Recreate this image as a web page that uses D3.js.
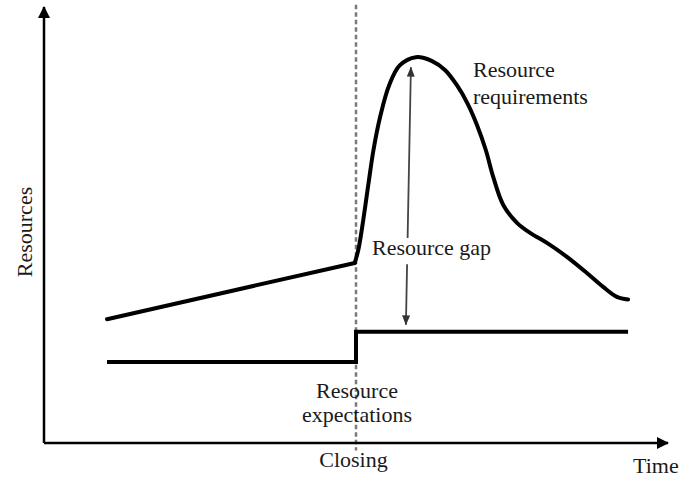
<!DOCTYPE html>
<html>
<head>
<meta charset="utf-8">
<script src="https://cdn.jsdelivr.net/npm/d3@7"></script>
<style>
html,body{margin:0;padding:0;background:#fff;}
svg{display:block;}
text{font-family:"Liberation Serif","Times New Roman",serif;fill:#1a1a1a;}
</style>
</head>
<body>
<svg id="chart" width="681" height="477"></svg>
<script>
// ---- data (time 0..100, resources 0..100, conceptual units) ----
const closingTime = 50;
// resource requirements: linear rise before closing
const reqBefore = [[10.1, 28.4], [49.8, 41.3]];
// resource requirements: hump after closing
const reqAfter = [
  [49.8, 41.3], [50.4, 44.5], [51.2, 51.5], [52.0, 59.5], [52.8, 67.2],
  [53.9, 75.0], [55.3, 82.0], [57.0, 86.6], [59.6, 88.5],
  [62.2, 87.6], [64.3, 85.5], [66.2, 82.0], [67.9, 77.8],
  [69.4, 72.9], [70.8, 67.2], [72.0, 61.0], [73.6, 54.6], [75.8, 50.5],
  [77.9, 48.2], [80.6, 45.9], [83.8, 42.7], [87.0, 39.0], [89.6, 35.8],
  [91.8, 33.5], [93.6, 32.9]
];
// resource expectations: step at closing
const expectations = [[10.1, 18.6], [50, 18.6], [50, 25.5], [93.6, 25.5]];
// resource gap arrow (bottom tip, top tip)
const gapArrow = [[58.0, 27.1], [58.8, 86.2]];
const gapLabelBreak = [47.0, 41.0]; // resources where the label interrupts the arrow
const labels = {
  yAxis: "Resources", xAxis: "Time", closing: "Closing",
  gap: "Resource gap", req: ["Resource", "requirements"], exp: ["Resource", "expectations"]
};

// ---- scales ----
const x = d3.scaleLinear().domain([0, 100]).range([44, 668]);
const y = d3.scaleLinear().domain([0, 100]).range([443, 7]);

const svg = d3.select("#chart");

// arrow markers
const defs = svg.append("defs");
defs.append("marker").attr("id", "axisArrow")
  .attr("viewBox", "0 0 12 12").attr("refX", 11).attr("refY", 6)
  .attr("markerWidth", 12).attr("markerHeight", 12).attr("markerUnits", "userSpaceOnUse")
  .attr("orient", "auto")
  .append("path").attr("d", "M0,0 L12,6 L0,12 Z").attr("fill", "#000");
defs.append("marker").attr("id", "gapArrow")
  .attr("viewBox", "0 0 10 8").attr("refX", 9.5).attr("refY", 4)
  .attr("markerWidth", 10).attr("markerHeight", 8).attr("markerUnits", "userSpaceOnUse")
  .attr("orient", "auto")
  .append("path").attr("d", "M0,0 L10,4 L0,8 Z").attr("fill", "#333");

// dashed closing line
svg.append("line")
  .attr("x1", x(closingTime)).attr("x2", x(closingTime))
  .attr("y1", y(100.5)).attr("y2", y(-1.7))
  .attr("stroke", "#7a7a7a").attr("stroke-width", 2.5)
  .attr("stroke-dasharray", "4.5,3");

// axes
svg.append("line")
  .attr("x1", x(0)).attr("y1", y(0)).attr("x2", x(0)).attr("y2", y(100))
  .attr("stroke", "#000").attr("stroke-width", 2.5).attr("marker-end", "url(#axisArrow)");
svg.append("line")
  .attr("x1", x(0)).attr("y1", y(0)).attr("x2", x(100)).attr("y2", y(0))
  .attr("stroke", "#000").attr("stroke-width", 2.5).attr("marker-end", "url(#axisArrow)");

// curves
const lin = d3.line().x(d => x(d[0])).y(d => y(d[1]));
const smooth = d3.line().x(d => x(d[0])).y(d => y(d[1])).curve(d3.curveCatmullRom.alpha(0.5));

svg.append("path").attr("d", lin(reqBefore))
  .attr("fill", "none").attr("stroke", "#000").attr("stroke-width", 4).attr("stroke-linecap", "round");
svg.append("path").attr("d", smooth(reqAfter))
  .attr("fill", "none").attr("stroke", "#000").attr("stroke-width", 4)
  .attr("stroke-linecap", "round").attr("stroke-linejoin", "round");
svg.append("path").attr("d", lin(expectations))
  .attr("fill", "none").attr("stroke", "#000").attr("stroke-width", 4).attr("stroke-linejoin", "miter");

// resource gap arrow (two parts around label)
const ax = r => {
  const [b, t] = gapArrow;
  return b[0] + (t[0] - b[0]) * (r - b[1]) / (t[1] - b[1]);
};
svg.append("line")
  .attr("x1", x(ax(gapLabelBreak[0]))).attr("y1", y(gapLabelBreak[0]))
  .attr("x2", x(gapArrow[1][0])).attr("y2", y(gapArrow[1][1]))
  .attr("stroke", "#444").attr("stroke-width", 1.8).attr("marker-end", "url(#gapArrow)");
svg.append("line")
  .attr("x1", x(ax(gapLabelBreak[1]))).attr("y1", y(gapLabelBreak[1]))
  .attr("x2", x(gapArrow[0][0])).attr("y2", y(gapArrow[0][1]))
  .attr("stroke", "#444").attr("stroke-width", 1.8).attr("marker-end", "url(#gapArrow)");

// labels
const fs = "22px";
svg.append("text").attr("transform", `translate(32,${y(50) + 7}) rotate(-90)`)
  .attr("text-anchor", "middle").style("font-size", fs).text(labels.yAxis);
svg.append("text").attr("x", 633).attr("y", 473).style("font-size", fs).text(labels.xAxis);
svg.append("text").attr("x", x(closingTime) - 2.5).attr("y", 467)
  .attr("text-anchor", "middle").style("font-size", fs).text(labels.closing);
svg.append("text").attr("x", 372).attr("y", 255).style("font-size", fs).text(labels.gap);
labels.req.forEach((t, i) => svg.append("text").attr("x", 473).attr("y", 77 + i * 27)
  .style("font-size", fs).text(t));
labels.exp.forEach((t, i) => svg.append("text").attr("x", x(closingTime) + 1).attr("y", 398 + i * 24)
  .attr("text-anchor", "middle").style("font-size", fs).text(t));
</script>
</body>
</html>
